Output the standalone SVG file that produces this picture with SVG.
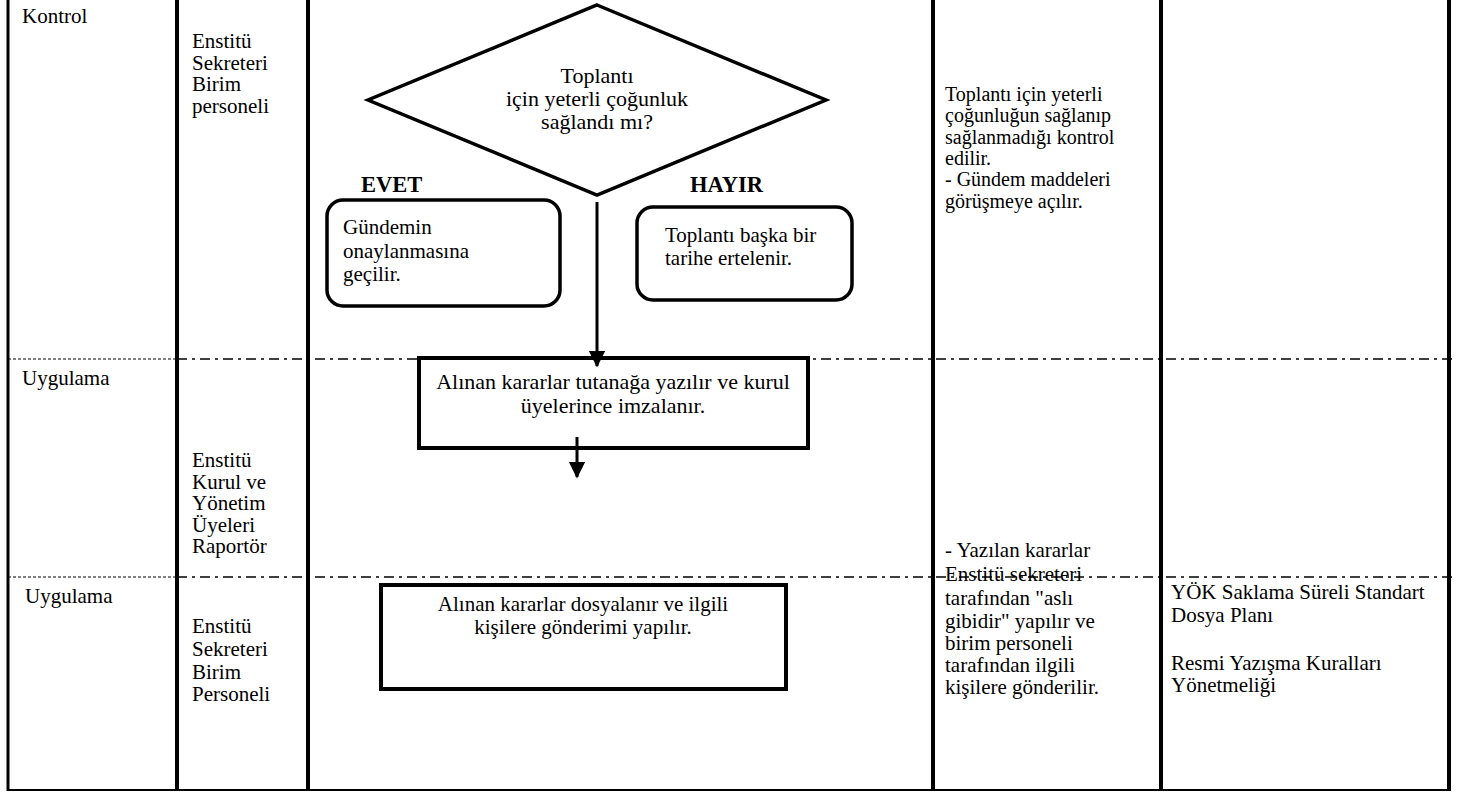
<svg xmlns="http://www.w3.org/2000/svg" width="1457" height="794" viewBox="0 0 1457 794">
<style>
text{font-family:"Liberation Serif","Times New Roman",serif;font-size:21px;fill:#000}
.b{font-weight:bold;font-size:22.5px}
.c{text-anchor:middle}
.big{font-size:22px}
.sm{font-size:20px}
.col{stroke:#000;stroke-width:4;fill:none}
.fine{stroke:#000;stroke-width:1;stroke-dasharray:3 2;fill:none}
.dd{stroke:#000;stroke-width:1.5;stroke-dasharray:10 5 3 5;fill:none}
.box{fill:#fff;stroke:#000;stroke-width:4}
.rbox{fill:#fff;stroke:#000;stroke-width:3.5}
.con{stroke:#000;stroke-width:3;fill:none}
</style>
<defs>
<marker id="ah" markerWidth="6" markerHeight="6" refX="5" refY="2.7" orient="auto" markerUnits="strokeWidth">
<path d="M0,0 L5.5,2.7 L0,5.4 Z" fill="#000"/>
</marker>
</defs>
<rect x="0" y="0" width="1457" height="794" fill="#fff"/>
<g id="grid">
<line class="col" x1="8" y1="0" x2="8" y2="791" style="stroke-width:3"/>
<line class="col" x1="177" y1="0" x2="177" y2="791"/>
<line class="col" x1="308" y1="0" x2="308" y2="791"/>
<line class="col" x1="933" y1="0" x2="933" y2="791"/>
<line class="col" x1="1161" y1="0" x2="1161" y2="791"/>
<line class="col" x1="1449" y1="0" x2="1449" y2="791"/>
<line x1="8" y1="790" x2="1449" y2="790" stroke="#000" stroke-width="2"/>
<line class="fine" x1="8" y1="359" x2="177" y2="359"/>
<line class="dd" x1="177" y1="359" x2="1457" y2="359"/>
<line class="fine" x1="8" y1="577" x2="177" y2="577"/>
<line class="dd" x1="177" y1="577" x2="1457" y2="577"/>
</g>
<g id="lane-labels">
<text x="22" y="23">Kontrol</text>
<text x="192" y="48">Enstitü</text>
<text x="192" y="69.5">Sekreteri</text>
<text x="192" y="91">Birim</text>
<text x="192" y="112.5">personeli</text>
<text x="22" y="385">Uygulama</text>
<text x="192" y="467">Enstitü</text>
<text x="192" y="488.5">Kurul ve</text>
<text x="192" y="510">Yönetim</text>
<text x="192" y="531.5">Üyeleri</text>
<text x="192" y="553">Raportör</text>
<text x="25" y="603">Uygulama</text>
<text x="192" y="633">Enstitü</text>
<text x="192" y="656">Sekreteri</text>
<text x="192" y="678.5">Birim</text>
<text x="192" y="701">Personeli</text>
</g>
<g id="decision">
<polygon points="597,5 826,100 597,195 368,100" fill="#fff" stroke="#000" stroke-width="3.5"/>
<text class="c big" x="597" y="83">Toplantı</text>
<text class="c big" x="597" y="106">için yeterli çoğunluk</text>
<text class="c big" x="597" y="129">sağlandı mı?</text>
</g>
<g id="label-evet"><text class="b" x="361" y="192">EVET</text></g>
<g id="label-hayir"><text class="b" x="690" y="192">HAYIR</text></g>
<g id="yes-box">
<rect class="rbox" x="327" y="200" width="233" height="106" rx="16"/>
<text x="343" y="234">Gündemin</text>
<text x="343" y="257.5">onaylanmasına</text>
<text x="343" y="281">geçilir.</text>
</g>
<g id="no-box">
<rect class="rbox" x="637" y="207" width="215" height="93" rx="16"/>
<text x="665" y="242">Toplantı başka bir</text>
<text x="665" y="265">tarihe ertelenir.</text>
</g>
<g id="record-box">
<rect class="box" x="419" y="358" width="389" height="90"/>
<text class="c big" x="613" y="389">Alınan kararlar tutanağa yazılır ve kurul</text>
<text class="c big" x="613" y="413">üyelerince imzalanır.</text>
</g>
<g id="file-box">
<rect class="box" x="381" y="585" width="405" height="104"/>
<text class="c" x="583" y="611">Alınan kararlar dosyalanır ve ilgili</text>
<text class="c" x="583" y="634">kişilere gönderimi yapılır.</text>
</g>
<g id="desc-1">
<text class="sm" x="945" y="101">Toplantı için yeterli</text>
<text class="sm" x="945" y="122.3">çoğunluğun sağlanıp</text>
<text class="sm" x="945" y="143.6">sağlanmadığı kontrol</text>
<text class="sm" x="945" y="164.9">edilir.</text>
<text class="sm" x="945" y="186.2">- Gündem maddeleri</text>
<text class="sm" x="945" y="207.5">görüşmeye açılır.</text>
</g>
<g id="desc-2">
<text x="945" y="557">- Yazılan kararlar</text>
<text x="945" y="581">Enstitü sekreteri</text>
<text x="945" y="605">tarafından "aslı</text>
<text x="945" y="628">gibidir" yapılır ve</text>
<text x="945" y="650">birim personeli</text>
<text x="945" y="672">tarafından ilgili</text>
<text x="945" y="694">kişilere gönderilir.</text>
</g>
<g id="refs">
<text x="1171" y="599">YÖK Saklama Süreli Standart</text>
<text x="1171" y="622">Dosya Planı</text>
<text x="1171" y="670">Resmi Yazışma Kuralları</text>
<text x="1171" y="692">Yönetmeliği</text>
</g>
<g id="connectors">
<line class="con" x1="597" y1="202" x2="597" y2="366" marker-end="url(#ah)"/>
<line class="con" x1="577" y1="437" x2="577" y2="477" marker-end="url(#ah)"/>
</g>
</svg>
